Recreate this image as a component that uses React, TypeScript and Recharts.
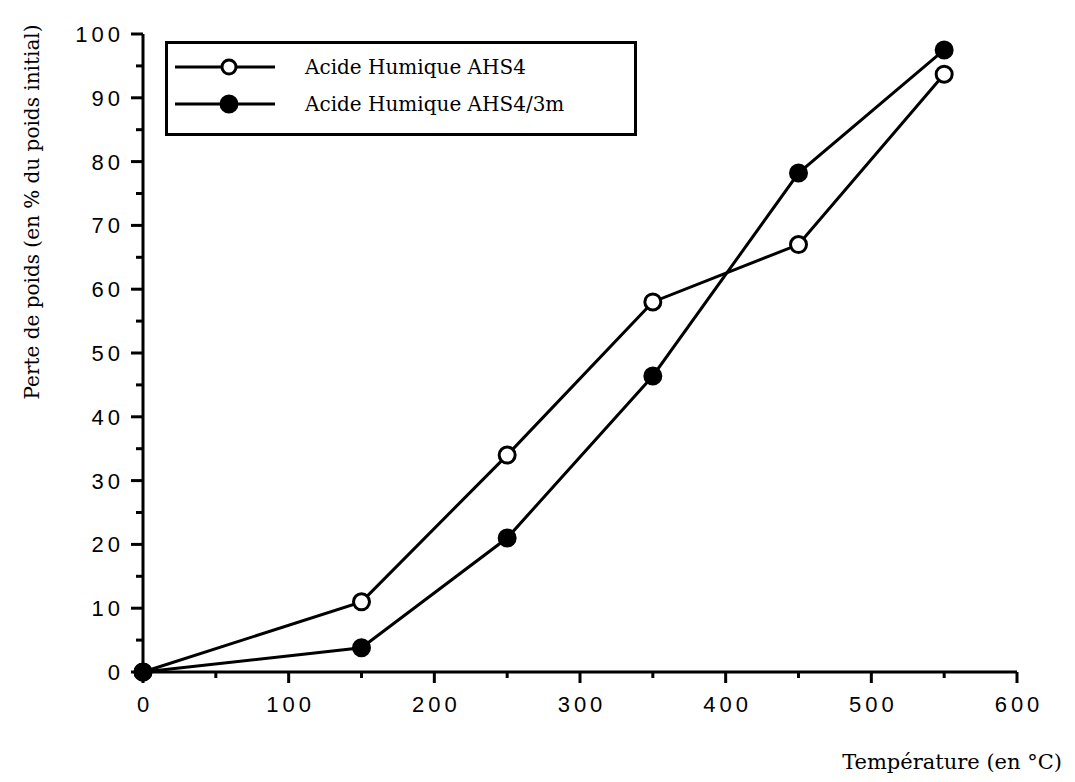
import React from 'react';
import { LineChart, Line, XAxis, YAxis, Legend, Label } from 'recharts';

const temperatures = [0, 150, 250, 350, 450, 550];
const lossAHS4 = [0, 11, 34, 58, 67, 93.7];
const lossAHS4_3m = [0, 3.8, 21, 46.4, 78.2, 97.5];
const seriesNames = ['Acide Humique AHS4', 'Acide Humique AHS4/3m'];
const xTicks = [0, 50, 100, 150, 200, 250, 300, 350, 400, 450, 500, 550, 600];
const yTicks = [0, 5, 10, 15, 20, 25, 30, 35, 40, 45, 50, 55, 60, 65, 70, 75, 80, 85, 90, 95, 100];
const xTitle = 'Température (en °C)';
const yTitle = 'Perte de poids (en % du poids initial)';

const data = temperatures.map((t, i) => ({ t, a: lossAHS4[i], b: lossAHS4_3m[i] }));

const SANS = '"Liberation Sans", Arial, sans-serif';
const SERIF = '"DejaVu Serif", "Liberation Serif", serif';

const XTick = (props: any) => {
  const { x, y, payload } = props;
  const v = payload.value;
  const major = v % 100 === 0;
  return (
    <g>
      <line x1={x} x2={x} y1={y} y2={y + (major ? 11 : 6)} stroke="#000" strokeWidth={3} />
      {major && (
        <text x={x + 2} y={y + 40} textAnchor="middle" fontFamily={SANS} fontSize={22} letterSpacing={4} fill="#000">
          {v}
        </text>
      )}
    </g>
  );
};

const YTick = (props: any) => {
  const { x, y, payload } = props;
  const v = payload.value;
  const major = v % 10 === 0;
  return (
    <g>
      <line x1={x - (major ? 12 : 7)} x2={x} y1={y} y2={y} stroke="#000" strokeWidth={3} />
      {major && (
        <text x={x - 19} y={y + 8} textAnchor="end" fontFamily={SANS} fontSize={22} letterSpacing={4} fill="#000">
          {v}
        </text>
      )}
    </g>
  );
};

const renderLegend = () => (
  <div
    style={{
      width: 472,
      height: 95,
      border: '3px solid #000',
      boxSizing: 'border-box',
      background: '#fff',
    }}
  >
    {seriesNames.map((name, i) => (
      <div key={name} style={{ display: 'flex', alignItems: 'center', height: 37, marginTop: i === 0 ? 4 : 0 }}>
        <svg width={110} height={24} style={{ marginLeft: 7 }}>
          <line x1={0} x2={100} y1={12} y2={12} stroke="#000" strokeWidth={3} />
          <circle cx={54} cy={12} r={i === 0 ? 7 : 8} fill={i === 0 ? '#fff' : '#000'} stroke="#000" strokeWidth={3} />
        </svg>
        <span style={{ fontFamily: SERIF, fontSize: 20, marginLeft: 20, color: '#000' }}>{name}</span>
      </div>
    ))}
  </div>
);

export default function App() {
  return (
    <div style={{ position: 'absolute', left: 0, top: 0, width: 1075, height: 782, background: '#fff' }}>
      <LineChart width={1075} height={782} data={data} margin={{ top: 34, right: 58, bottom: 0, left: 0 }}>
        <XAxis
          dataKey="t"
          type="number"
          domain={[0, 600]}
          ticks={xTicks}
          interval={0}
          tick={<XTick />}
          tickLine={false}
          tickSize={0}
          tickMargin={0}
          height={110}
          axisLine={{ stroke: '#000', strokeWidth: 3 }}
        >
          <Label
            content={() => (
              <text x={1062} y={769} textAnchor="end" fontFamily={SERIF} fontSize={21} fill="#000">
                {xTitle}
              </text>
            )}
          />
        </XAxis>
        <YAxis
          type="number"
          domain={[0, 100]}
          ticks={yTicks}
          interval={0}
          tick={<YTick />}
          tickLine={false}
          tickSize={0}
          tickMargin={0}
          width={143}
          axisLine={{ stroke: '#000', strokeWidth: 3 }}
        >
          <Label
            content={() => (
              <text
                x={39}
                y={212}
                transform="rotate(-90 39 212)"
                textAnchor="middle"
                fontFamily={SERIF}
                fontSize={20}
                fill="#000"
              >
                {yTitle}
              </text>
            )}
          />
        </YAxis>
        <Legend
          layout="horizontal"
          verticalAlign="middle"
          align="center"
          content={renderLegend}
          wrapperStyle={{ position: 'absolute', left: 165, top: 41, width: 472, height: 95 }}
        />
        <Line
          dataKey="a"
          name={seriesNames[0]}
          type="linear"
          stroke="#000"
          strokeWidth={3}
          dot={{ r: 8, fill: '#fff', stroke: '#000', strokeWidth: 3 }}
          activeDot={false}
          isAnimationActive={false}
        />
        <Line
          dataKey="b"
          name={seriesNames[1]}
          type="linear"
          stroke="#000"
          strokeWidth={3}
          dot={{ r: 8, fill: '#000', stroke: '#000', strokeWidth: 3 }}
          activeDot={false}
          isAnimationActive={false}
        />
      </LineChart>
    </div>
  );
}
